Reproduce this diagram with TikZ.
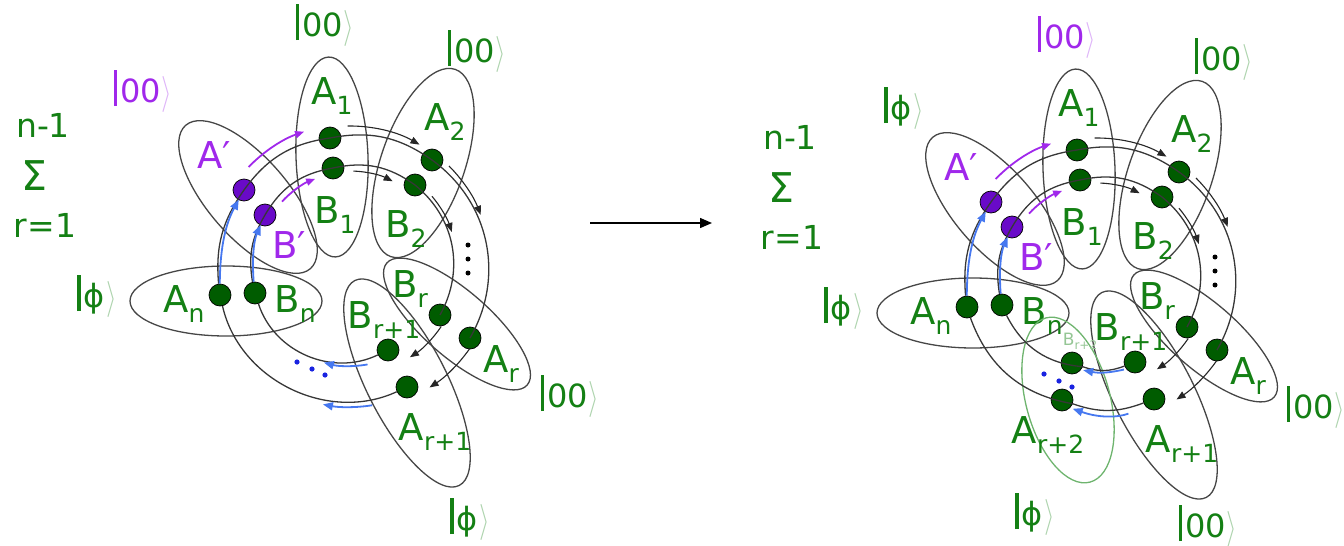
\documentclass[tikz,border=0pt]{standalone}
\usepackage{fontspec}
\setmainfont{DejaVu Sans}
\usetikzlibrary{arrows.meta,shapes.geometric}

\definecolor{grn}{RGB}{20,128,20}
\definecolor{dkg}{RGB}{0,92,0}
\definecolor{vio}{RGB}{160,40,235}
\definecolor{pdot}{RGB}{105,10,200}
\definecolor{elc}{RGB}{70,70,70}
\definecolor{lnc}{RGB}{55,55,55}
\definecolor{blu}{RGB}{70,120,240}
\definecolor{bdt}{RGB}{25,35,225}
\definecolor{lgrn}{RGB}{110,180,110}

\newcommand{\sbx}[1]{\raisebox{-10pt}{\fontsize{25}{25}\selectfont #1}}
\newcommand{\ketlbl}[2]{\textcolor{#1}{\rule[-4pt]{3.6pt}{36pt}\hspace{3pt}#2}\hspace{1pt}\textcolor{#1!35}{\raisebox{-1pt}{\scalebox{1.1}[1.45]{$\rangle$}}}}

\begin{document}
\begin{tikzpicture}[x=1pt, y=1pt,
    grp/.style={ellipse, draw=elc, line width=1.3pt, inner sep=0pt},
    dot/.style={circle, draw=black, line width=0.7pt, fill=dkg, minimum size=22pt, inner sep=0pt},
    pdt/.style={dot, fill=pdot},
    lnk/.style={draw=lnc, line width=1.3pt},
    bfl/.style={draw=black!85, line width=1.1pt, -{Triangle[length=9pt,width=7pt]}},
    pfl/.style={draw=vio, line width=1.8pt, -{Triangle[length=9pt,width=7pt]}},
    blf/.style={draw=blu, line width=1.8pt, -{Triangle[length=10pt,width=8pt]}},
    lbl/.style={font=\fontsize{37}{37}\selectfont, text=grn, inner sep=0pt, anchor=base},
    ket/.style={font=\fontsize{32}{32}\selectfont, inner sep=0pt, anchor=base},
    sumt/.style={font=\fontsize{33}{33}\selectfont, text=grn, inner sep=0pt, anchor=base},
  ]
  \useasboundingbox (0,0) rectangle (1344,-546);

  % the same ring, left and right
  \foreach \s/\dx/\dy in {L/0/0, R/747/-12} {
  \begin{scope}[shift={(\dx,\dy)}, name prefix=\s-]
    \coordinate (O) at (350,-265);
    % pairs
    \node[grp, minimum width=190, minimum height=80, rotate=-49] (gP) at (248,-197) {};
    \node[grp, minimum width=200, minimum height=72, rotate=92] (g1) at (332,-157) {};
    \node[grp, minimum width=198, minimum height=84, rotate=71] (g2) at (423,-163) {};
    \node[grp, minimum width=192, minimum height=70] (gn) at (226,-301) {};
    \node[grp, minimum width=186, minimum height=66, rotate=-41] (gr) at (457,-324) {};
    \node[grp, minimum width=230, minimum height=80, rotate=-63] (gr1) at (407,-383) {};
    % qubits
    \node[pdt] (Ap) at (244,-190) {};
    \node[pdt] (Bp) at (265,-215) {};
    \node[dot] (A1) at (330,-138) {};
    \node[dot] (B1) at (333,-168) {};
    \node[dot] (A2) at (432,-160) {};
    \node[dot] (B2) at (415,-185) {};
    \node[dot] (Ar) at (470,-338) {};
    \node[dot] (Br) at (440,-315) {};
    \node[dot] (Ar1) at (407,-387) {};
    \node[dot] (Br1) at (388,-350) {};
    \node[dot] (An) at (220,-295) {};
    \node[dot] (Bn) at (255,-293) {};
    % ring links
    \draw[lnk] (An) to[bend left=20] (Ap) to[bend left=23] (A1) to[bend left=23] (A2) to[bend left=42] (Ar);
    \draw[lnk] (Bn) to[bend left=20] (Bp) to[bend left=25] (B1) to[bend left=24] (B2) to[bend left=40] (Br);
    \draw[blf, shorten >=11pt] (An) to[bend left=14] (Ap);
    \draw[blf, shorten >=11pt] (Bn) to[bend left=14] (Bp);
    % flow arrows
    \draw[pfl] ([shift={(136:141)}]O) arc[start angle=136, end angle=109, radius=141];
    \draw[pfl] ([shift={(137:93)}]O) arc[start angle=137, end angle=112, radius=93];
    \draw[bfl] ([shift={(91:139)}]O) arc[start angle=91, end angle=60, radius=139];
    \draw[bfl] ([shift={(88:94)}]O) arc[start angle=88, end angle=63, radius=94];
    \draw[bfl] ([shift={(45:140)}]O) arc[start angle=45, end angle=21, radius=140];
    \draw[bfl] ([shift={(40:107)}]O) arc[start angle=40, end angle=18, radius=107];
    \draw[bfl] ([shift={(-35:146)}]O) arc[start angle=-35, end angle=-57, radius=146];
    \draw[bfl] ([shift={(-34:110)}]O) arc[start angle=-34, end angle=-57, radius=110];
    \foreach \yy in {245,259,273} \fill (468,-\yy) circle[radius=2.5];
    \fill[bdt] (297,-362) circle[radius=2.6] (312,-369) circle[radius=2.6] (325,-375) circle[radius=2.6];
    % names
    \node[lbl, text=vio] (tAp) at (214,-168) {A′};
    \node[lbl, text=vio] (tBp) at (289,-258) {B′};
    \node[lbl] (tA1) at (332,-104) {A\sbx{1}};
    \node[lbl] (tB1) at (335,-223) {B\sbx{1}};
    \node[lbl] (tA2) at (445,-130) {A\sbx{2}};
    \node[lbl] (tB2) at (406,-237) {B\sbx{2}};
    \node[lbl] (tBr) at (410,-297) {B\sbx{r}};
    \node[lbl] (tBr1) at (384,-328) {B\sbx{r+1}};
    \node[lbl] (tAr) at (501,-372) {A\sbx{r}};
    \node[lbl] (tAr1) at (435,-440) {A\sbx{r+1}};
    \node[lbl] (tAn) at (184,-312) {A\sbx{n}};
    \node[lbl] (tBn) at (295,-312) {B\sbx{n}};
    \node[sumt] (sTop) at (43,-137) {n-1};
    \node[sumt, font=\fontsize{41}{41}\selectfont] (sSig) at (34,-190) {Σ};
    \node[sumt] (sBot) at (45,-237) {r=1};
  \end{scope}
  }

  % left: closing the ring
  \draw[lnk] (L-Ar1) to[bend left=51] (L-An);
  \draw[lnk] (L-Br1) to[bend left=49] (L-Bn);
  \draw[blf] ([shift={(-80:101)}]L-O) arc[start angle=-80, end angle=-105, radius=101];
  \draw[blf] ([shift={(-81:142)}]L-O) arc[start angle=-81, end angle=-101, radius=142];
  \node[ket] (kLP) at (143,-102) {\ketlbl{vio}{00}};
  \node[ket] (kL1) at (325,-36) {\ketlbl{grn}{00}};
  \node[ket] (kL2) at (477,-62) {\ketlbl{grn}{00}};
  \node[ket] (kLr) at (570,-407) {\ketlbl{grn}{00}};
  \node[ket] (kLn) at (97,-307) {\ketlbl{grn}{ϕ}};
  \node[ket] (kLr1) at (470,-530) {\ketlbl{grn}{ϕ}};

  % middle arrow
  \coordinate (mA) at (590,-223);
  \coordinate (mB) at (712,-223);
  \draw[draw=black, line width=1.4pt, -{Triangle[length=12pt,width=10pt]}] (mA) -- (mB);

  % right: new pair r+2
  \node[grp, draw=lgrn, minimum width=170, minimum height=84, rotate=105] (R-gr2) at (1068,-400) {};
  \node[dot] (R-Ar2) at (1062,-400) {};
  \node[dot] (R-Br2) at (1072,-363) {};
  \draw[lnk] (R-Ar1) to[bend left=20] (R-Ar2) to[bend left=30] (R-An);
  \draw[lnk] (R-Br1) to[bend left=20] (R-Br2) to[bend left=29] (R-Bn);
  \draw[blf, transform canvas={yshift=-5pt}] (R-Br1) to[bend left=12] (R-Br2);
  \draw[blf, shorten <=16pt, transform canvas={yshift=-5pt}] (R-Ar1) to[bend left=20] (R-Ar2);
  \node[lbl] (R-tAr2) at (1048,-443) {A\sbx{r+2}};
  \node[lbl, font=\fontsize{17}{17}\selectfont, text=grn!45] (R-tBr2) at (1080,-345) {B\raisebox{-4pt}{\fontsize{12}{12}\selectfont r+2}};
  \node[ket] (kRP) at (904,-119) {\ketlbl{grn}{ϕ}};
  \node[ket] (kR1) at (1067,-48) {\ketlbl{vio}{00}};
  \node[ket] (kR2) at (1224,-70) {\ketlbl{grn}{00}};
  \node[ket] (kRr) at (1316,-418) {\ketlbl{grn}{00}};
  \node[ket] (kRn) at (844,-319) {\ketlbl{grn}{ϕ}};
  \node[ket] (kRr1) at (1208,-537) {\ketlbl{grn}{00}};
  \node[ket] (kRr2) at (1035,-525) {\ketlbl{grn}{ϕ}};
\end{tikzpicture}
\end{document}
